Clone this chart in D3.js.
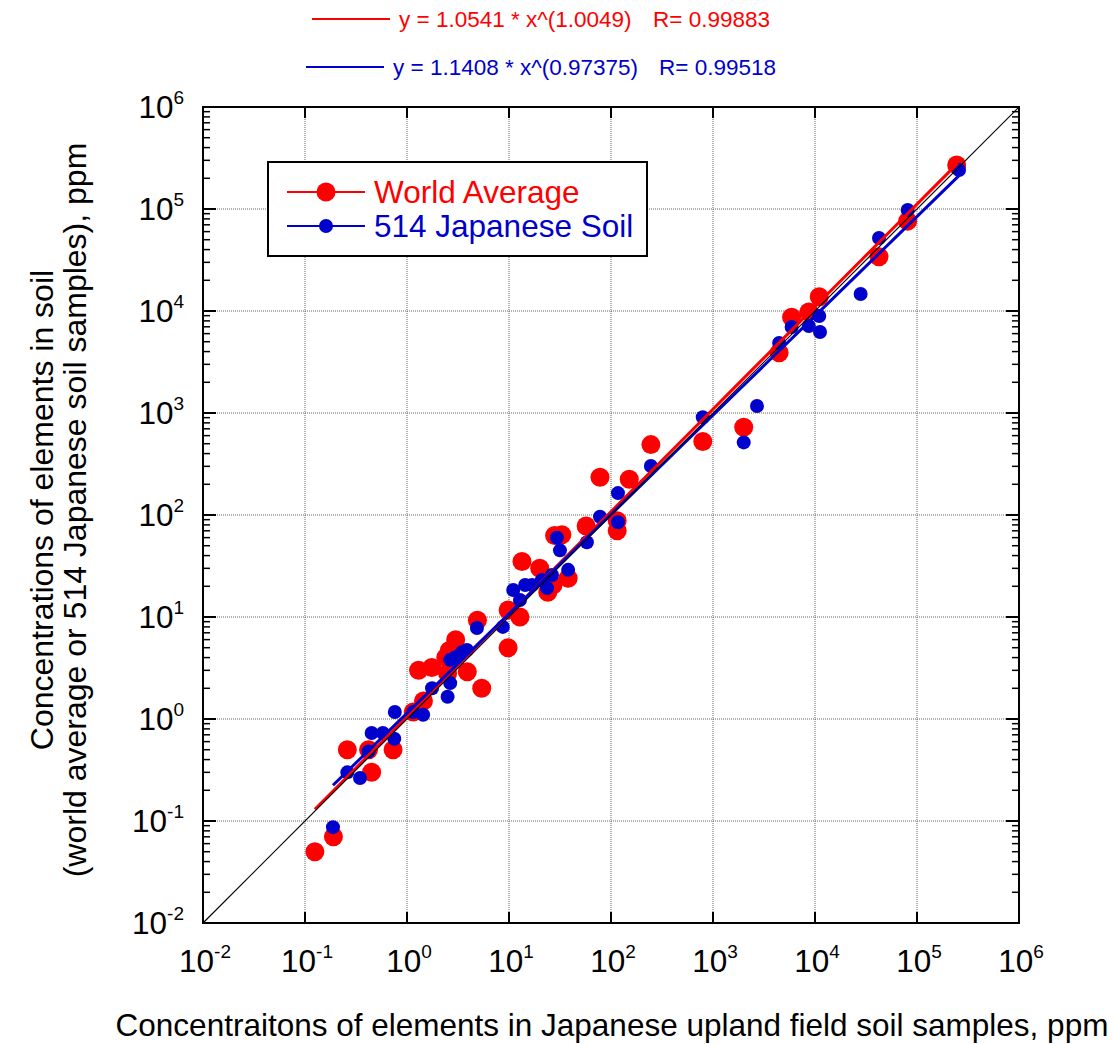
<!DOCTYPE html>
<html><head><meta charset="utf-8">
<script src="https://cdn.jsdelivr.net/npm/d3@7"></script>
<style>body{margin:0;background:#fff}svg{display:block;font-family:"Liberation Sans",Arial,sans-serif}</style>
</head><body>
<svg id="c" width="1115" height="1044"></svg>
<script>
// ---- data ----
const redX = [0.125,0.19,0.26,0.45,0.73,0.42,1.15,1.45,1.3,1.75,2.5,2.4,2.6,3,3.9,5.4,4.9,9.8,9.8,12.8,13.4,20,24,27,38,28,33,57,115,115,78,151,246,794,2000,4450,5900,8700,11000,42400,81000,245000];
const redY = [0.05,0.07,0.5,0.3,0.5,0.5,1.17,1.5,3,3.2,2.8,4,4.7,6,2.9,2,9.3,5,11.7,10,35,30,17.5,20.6,24,63,64,78,70,88,234,224,490,525,725,3900,8700,9800,13800,34000,76000,270000];
const blueX = [0.188,0.26,0.346,0.42,0.45,0.58,0.75,0.76,1.15,1.44,1.76,2.5,2.65,2.65,2.95,3.45,3.87,4.85,8.7,11,12.8,14.4,16.8,21,23.6,26.4,38,29.5,31.6,58,78,117,117,246,794,2000,2700,4450,5900,8700,11000,11200,28000,42400,81000,258000];
const blueY = [0.087,0.30,0.264,0.48,0.73,0.73,0.64,1.17,1.17,1.1,2.0,1.65,2.25,3.8,4.0,4.5,4.75,7.8,8.0,18.4,14.7,20.6,20.6,23,19.2,25.8,29,60,45,54,96,85,164,302,910,515,1170,4850,6970,7130,8930,6220,14700,52000,98000,241000];
const seriesNames = ["World Average","514 Japanese Soil"];
const fitA = [1.0541, 1.1408];
const fitB = [1.0049, 0.97375];
const fitR = ["0.99883","0.99518"];
const fitRange = [[0.125,250000],[0.188,258000]];
const tickExponents = [-2,-1,0,1,2,3,4,5,6];
const xTitle = "Concentraitons of elements in Japanese upland field soil samples, ppm";
const yTitle = ["Concentrations of elements in soil","(world average or 514 Japanese soil samples), ppm"];

// ---- chart ----
const svg = d3.select("#c");
const L=203,R=1019,T=107,B=923;
const x = d3.scaleLog().domain([1e-2,1e6]).range([L,R]);
const y = d3.scaleLog().domain([1e-2,1e6]).range([B,T]);
const colors = ["#ff0000","#0000cc"];
const lineColors = ["#ff0000","#0000cc"];
const ticks = tickExponents.map(e=>Math.pow(10,e));

// grid
const g = svg.append("g");
g.selectAll(".gx").data(ticks.slice(1,-1)).join("line")
 .attr("x1",d=>x(d)).attr("x2",d=>x(d)).attr("y1",T).attr("y2",B)
 .attr("stroke","#666").attr("stroke-width",1).attr("stroke-dasharray","1,1");
g.selectAll(".gy").data(ticks.slice(1,-1)).join("line")
 .attr("y1",d=>y(d)).attr("y2",d=>y(d)).attr("x1",L).attr("x2",R)
 .attr("stroke","#666").attr("stroke-width",1).attr("stroke-dasharray","1,1");

// points
svg.append("g").selectAll("circle").data(redX.map((v,i)=>[v,redY[i]])).join("circle")
 .attr("cx",d=>x(d[0])).attr("cy",d=>y(d[1])).attr("r",9.5).attr("fill",colors[0]);
svg.append("g").selectAll("circle").data(blueX.map((v,i)=>[v,blueY[i]])).join("circle")
 .attr("cx",d=>x(d[0])).attr("cy",d=>y(d[1])).attr("r",7).attr("fill",colors[1]);

// fit lines
const line = d3.line().x(d=>x(d[0])).y(d=>y(d[1]));
[0,1].forEach(k=>{
  const pts = d3.range(0,21).map(i=>{
    const lx = Math.log10(fitRange[k][0]) + i/20*(Math.log10(fitRange[k][1])-Math.log10(fitRange[k][0]));
    const xv = Math.pow(10,lx);
    return [xv, fitA[k]*Math.pow(xv,fitB[k])];
  });
  svg.append("path").attr("d",line(pts)).attr("fill","none").attr("stroke",lineColors[k]).attr("stroke-width",3);
});
// 1:1 line
svg.append("path").attr("d",line([[1e-2,1e-2],[1e6,1e6]])).attr("stroke","#000").attr("stroke-width",1.2).attr("fill","none");

// frame
svg.append("rect").attr("x",L).attr("y",T).attr("width",R-L).attr("height",B-T)
 .attr("fill","none").attr("stroke","#000").attr("stroke-width",2);

// ticks
const tk = svg.append("g").attr("stroke","#000");
ticks.forEach(t=>{
  tk.append("line").attr("x1",x(t)).attr("x2",x(t)).attr("y1",B).attr("y2",B-11).attr("stroke-width",2);
  tk.append("line").attr("x1",x(t)).attr("x2",x(t)).attr("y1",T).attr("y2",T+11).attr("stroke-width",2);
  tk.append("line").attr("y1",y(t)).attr("y2",y(t)).attr("x1",L).attr("x2",L+13).attr("stroke-width",2);
  tk.append("line").attr("y1",y(t)).attr("y2",y(t)).attr("x1",R).attr("x2",R-13).attr("stroke-width",2);
});
const minor = [];
tickExponents.slice(0,-1).forEach(e=>{ for(let m=2;m<=9;m++) minor.push(m*Math.pow(10,e)); });
minor.forEach(t=>{
  tk.append("line").attr("y1",y(t)).attr("y2",y(t)).attr("x1",L).attr("x2",L+7).attr("stroke-width",1.5);
  tk.append("line").attr("y1",y(t)).attr("y2",y(t)).attr("x1",R).attr("x2",R-7).attr("stroke-width",1.5);
});

// tick labels
function lab(sel, e){
  sel.append("tspan").text("10");
  sel.append("tspan").attr("dy",-14).attr("font-size",19).text(String(e));
}
tickExponents.forEach(e=>{
  const t = svg.append("text").attr("x",x(Math.pow(10,e))+2).attr("y",972).attr("text-anchor","middle").attr("font-size",31.5).attr("fill","#000");
  lab(t,e);
  const t2 = svg.append("text").attr("x",184).attr("y",y(Math.pow(10,e))+11).attr("text-anchor","end").attr("font-size",31.5).attr("fill","#000");
  lab(t2,e);
});

// axis titles
svg.append("text").attr("x",612).attr("y",1036).attr("text-anchor","middle").attr("font-size",31.5).text(xTitle);
svg.append("text").attr("transform","translate(53,510) rotate(-90)").attr("text-anchor","middle").attr("font-size",32).text(yTitle[0]);
svg.append("text").attr("transform","translate(86,510) rotate(-90)").attr("text-anchor","middle").attr("font-size",32).text(yTitle[1]);

// legend
svg.append("rect").attr("x",268).attr("y",162).attr("width",379).attr("height",94).attr("fill","#fff").attr("stroke","#000").attr("stroke-width",2);
const legY=[192,226], legR=[9.5,7], legBase=[203,237];
[0,1].forEach(k=>{
  svg.append("line").attr("x1",287).attr("x2",365).attr("y1",legY[k]).attr("y2",legY[k]).attr("stroke",lineColors[k]).attr("stroke-width",2);
  svg.append("circle").attr("cx",326).attr("cy",legY[k]).attr("r",legR[k]).attr("fill",colors[k]);
  svg.append("text").attr("x",374).attr("y",legBase[k]).attr("font-size",31.5).attr("fill",colors[k]).text(seriesNames[k]);
});

// equations
const eqLine=[[312,390,19],[306,384,67]], eqX=[399,393], eqRX=[653,659], eqBase=[27,75];
[0,1].forEach(k=>{
  svg.append("line").attr("x1",eqLine[k][0]).attr("x2",eqLine[k][1]).attr("y1",eqLine[k][2]).attr("y2",eqLine[k][2]).attr("stroke",lineColors[k]).attr("stroke-width",2);
  svg.append("text").attr("x",eqX[k]).attr("y",eqBase[k]).attr("font-size",22.5).attr("fill",lineColors[k])
    .text(`y = ${fitA[k].toFixed(4)} * x^(${fitB[k]})`);
  svg.append("text").attr("x",eqRX[k]).attr("y",eqBase[k]).attr("font-size",22.5).attr("fill",lineColors[k])
    .text(`R= ${fitR[k]}`);
});
</script>
</body></html>
